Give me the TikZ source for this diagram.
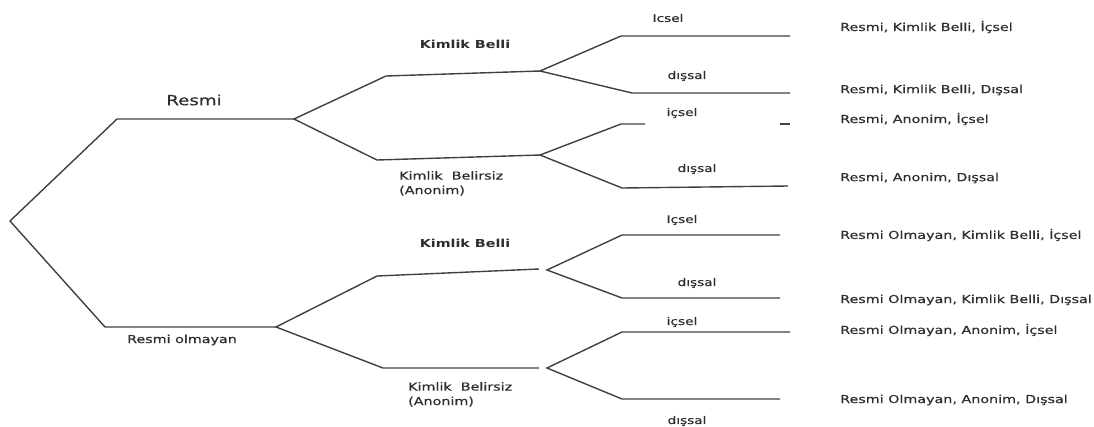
\documentclass[tikz,border=0pt]{standalone}
\usepackage{fontspec}
\newfontfamily\labfont[FakeStretch=1.3,FakeBold=0.6]{DejaVu Sans}
\newfontfamily\labboldfont[FakeStretch=1.3]{DejaVu Sans Bold}
\begin{document}
\begin{tikzpicture}[x=1pt,y=-1pt,
  branch/.style={draw=black!75,line width=1.4pt,line join=miter},
  lab/.style={inner sep=0pt,text=black!82,font=\labfont\fontsize{11}{13}\selectfont},
  big/.style={lab,font=\labfont\fontsize{14}{16}\selectfont},
  boldlab/.style={lab,font=\labboldfont\fontsize{11}{13}\selectfont},
  small/.style={lab,font=\labfont\fontsize{10.5}{12}\selectfont},
  res/.style={lab,anchor=west},
  two/.style={lab,anchor=north west,align=left,font=\labfont\fontsize{11}{14.5}\selectfont}]
\useasboundingbox (0,0) rectangle (1094,426);
% junction coordinates
\coordinate (root) at (10,221);
\coordinate (r1) at (117,119);
\coordinate (r2) at (294,119);
\coordinate (o1) at (105,327);
\coordinate (o2) at (276,327);
\coordinate (kb1a) at (386,76);
\coordinate (kb1b) at (540,71);
\coordinate (ka1a) at (377,160);
\coordinate (ka1b) at (540,155);
\coordinate (kb2a) at (377,276);
\coordinate (kb2b) at (539,269);
\coordinate (ka2a) at (383,368);
\coordinate (ka2b) at (539,368);
\coordinate (j3) at (547,270);
\coordinate (j4) at (547,368);
% leaves
\coordinate (a1) at (621,36);  \coordinate (a2) at (790,36);
\coordinate (b1) at (632,93);  \coordinate (b2) at (790,93);
\coordinate (c1) at (621,124); \coordinate (c2) at (645,124);
\coordinate (c3) at (780,124); \coordinate (c4) at (790,124);
\coordinate (d1) at (622,188); \coordinate (d2) at (788,186);
\coordinate (e1) at (622,235); \coordinate (e2) at (780,235);
\coordinate (f1) at (622,298); \coordinate (f2) at (780,298);
\coordinate (g1) at (622,332); \coordinate (g2) at (790,332);
\coordinate (h1) at (622,399); \coordinate (h2) at (780,399);
% branches
\draw[branch] (r2) -- (r1) -- (root) -- (o1) -- (o2);
\draw[branch] (kb1b) -- (kb1a) -- (r2) -- (ka1a) -- (ka1b);
\draw[branch] (kb2b) -- (kb2a) -- (o2) -- (ka2a) -- (ka2b);
\draw[branch] (a2) -- (a1) -- (kb1b) -- (b1) -- (b2);
\draw[branch] (c2) -- (c1) -- (ka1b) -- (d1) -- (d2);
\draw[branch] (c3) -- (c4);
\draw[branch] (e2) -- (e1) -- (j3) -- (f1) -- (f2);
\draw[branch] (g2) -- (g1) -- (j4) -- (h1) -- (h2);
% labels
\node[big] (lresmi) at (194,100) {Resmi};
\node[lab] (lolm) at (182,340) {Resmi olmayan};
\node[boldlab] (lkb1) at (465,44) {Kimlik Belli};
\node[boldlab] (lkb2) at (465,243) {Kimlik Belli};
\node[two] (lka1) at (399,171) {Kimlik\ \ Belirsiz\\(Anonim)};
\node[two] (lka2) at (408,382) {Kimlik\ \ Belirsiz\\(Anonim)};
\node[small] (s1) at (668,18) {Icsel};
\node[small] (s2) at (687,76) {dışsal};
\node[small] (s3) at (682,113) {içsel};
\node[small] (s4) at (697,169) {dışsal};
\node[small] (s5) at (682,220) {Içsel};
\node[small] (s6) at (697,283) {dışsal};
\node[small] (s7) at (682,322) {içsel};
\node[small] (s8) at (687,421) {dışsal};
\node[res] (t1) at (840,27) {Resmi, Kimlik Belli, İçsel};
\node[res] (t2) at (840,90) {Resmi, Kimlik Belli, Dışsal};
\node[res] (t3) at (840,119) {Resmi, Anonim, İçsel};
\node[res] (t4) at (840,178) {Resmi, Anonim, Dışsal};
\node[res] (t5) at (840,235) {Resmi Olmayan, Kimlik Belli, İçsel};
\node[res] (t6) at (840,300) {Resmi Olmayan, Kimlik Belli, Dışsal};
\node[res] (t7) at (840,330) {Resmi Olmayan, Anonim, İçsel};
\node[res] (t8) at (840,400) {Resmi Olmayan, Anonim, Dışsal};
\end{tikzpicture}
\end{document}
